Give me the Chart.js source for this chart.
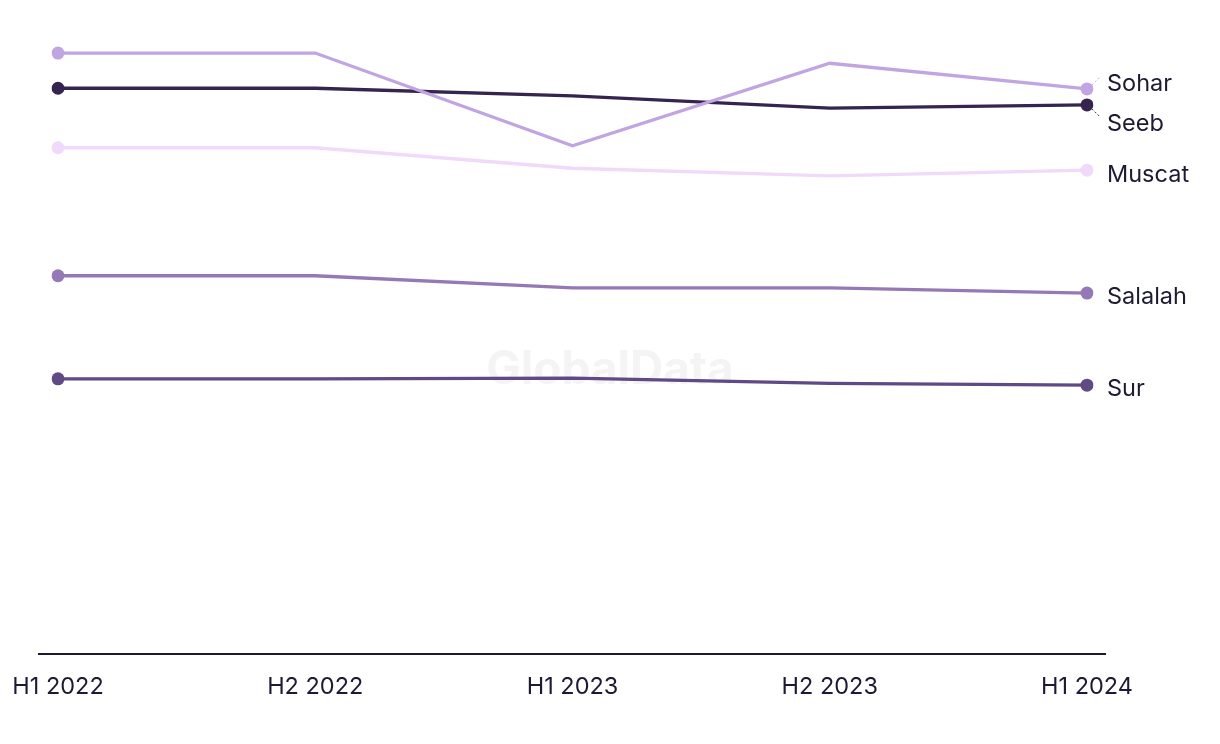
<!DOCTYPE html>
<html>
<head>
<meta charset="utf-8">
<script src="https://cdn.jsdelivr.net/npm/chart.js@4.4.1/dist/chart.umd.min.js"></script>
<style>
html,body{margin:0;padding:0;background:#fff;}
#wrap{width:1220px;height:744px;position:relative;}
</style>
</head>
<body>
<div id="wrap"><canvas id="c" width="1220" height="744"></canvas></div>
<script>
const categories = ["H1 2022", "H2 2022", "H1 2023", "H2 2023", "H1 2024"];
const sohar   = [93.9, 93.9, 79.4, 92.3, 88.3];
const seeb    = [88.4, 88.4, 87.2, 85.3, 85.8];
const muscat  = [79.1, 79.1, 75.9, 74.7, 75.6];
const salalah = [59.1, 59.1, 57.2, 57.2, 56.4];
const sur     = [43.0, 43.0, 43.1, 42.3, 42.0];
const seriesNames = ["Sohar", "Seeb", "Muscat", "Salalah", "Sur"];
const seriesColors = ["#c0a5e2", "#34244f", "#f1d9fa", "#9579b6", "#5f4a85"];
const labelOffsets = [-5, 19, 5, 4, 4];

const allData = [sohar, seeb, muscat, salalah, sur];
const FONT = "Inter, 'Liberation Sans', sans-serif";

const datasets = allData.map((d, i) => ({
  label: seriesNames[i],
  data: d,
  borderColor: seriesColors[i],
  backgroundColor: seriesColors[i],
  borderWidth: 3.3,
  pointRadius: d.map((v, j) => (j === 0 || j === d.length - 1) ? 6.5 : 0),
  pointHoverRadius: 6.5,
  pointBorderWidth: 0,
  tension: 0,
  fill: false
}));

const decor = {
  id: 'decor',
  beforeDatasetsDraw(chart) {
    const ctx = chart.ctx;
    ctx.save();
    ctx.font = "bold 46px " + FONT;
    ctx.fillStyle = "rgba(236,236,236,0.6)";
    ctx.textAlign = "center";
    ctx.textBaseline = "middle";
    ctx.fillText("GlobalData", 610, 370);
    ctx.restore();
  },
  afterDatasetsDraw(chart) {
    const ctx = chart.ctx;
    const a = chart.chartArea;
    ctx.save();
    ctx.strokeStyle = "#1a1a2e";
    ctx.lineWidth = 2;
    ctx.beginPath();
    ctx.moveTo(a.left - 20, a.bottom);
    ctx.lineTo(a.right + 19, a.bottom);
    ctx.stroke();

    ctx.font = "23.5px " + FONT;
    ctx.fillStyle = "#1d1b33";
    ctx.textAlign = "left";
    ctx.textBaseline = "middle";
    chart.data.datasets.forEach((ds, i) => {
      const meta = chart.getDatasetMeta(i);
      const pt = meta.data[meta.data.length - 1];
      const ly = pt.y + labelOffsets[i];
      ctx.fillText(ds.label, pt.x + 20, ly);
      if (Math.abs(labelOffsets[i]) > 8 || i === 0) {
        ctx.save();
        ctx.strokeStyle = ds.borderColor;
        ctx.lineWidth = 1;
        ctx.setLineDash([2, 2]);
        ctx.beginPath();
        const dir = labelOffsets[i] < 0 ? -1 : 1;
        ctx.moveTo(pt.x + 5, pt.y + dir * 4);
        ctx.lineTo(pt.x + 13, pt.y + dir * 12);
        ctx.stroke();
        ctx.restore();
      }
    });
    ctx.restore();
  }
};

new Chart(document.getElementById('c'), {
  type: 'line',
  data: { labels: categories, datasets },
  options: {
    responsive: false,
    animation: false,
    layout: { padding: { left: 58, right: 133, top: 14, bottom: 0 } },
    plugins: { legend: { display: false }, tooltip: { enabled: false } },
    scales: {
      x: {
        offset: false,
        grid: { display: false, drawTicks: false },
        border: { display: false },
        afterFit(scale) { scale.height = 90; scale.paddingLeft = 0; scale.paddingRight = 0; },
        ticks: {
          padding: 19,
          color: "#1d1b33",
          font: { family: FONT, size: 23.5 },
          maxRotation: 0,
          autoSkip: false
        }
      },
      y: {
        display: false,
        min: 0,
        max: 100
      }
    }
  },
  plugins: [decor]
});
</script>
</body>
</html>
